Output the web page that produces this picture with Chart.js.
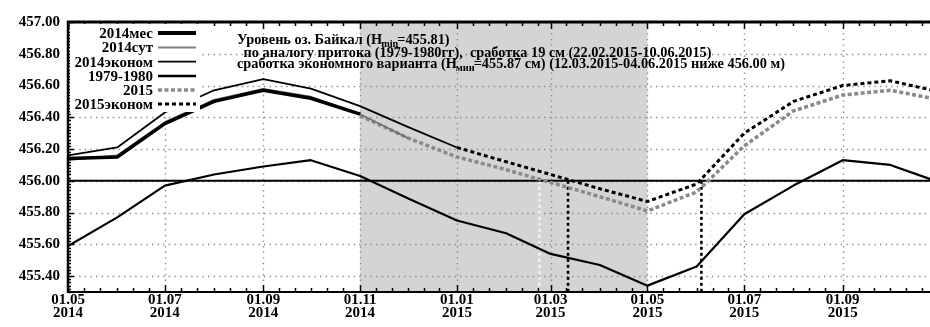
<!DOCTYPE html>
<html><head><meta charset="utf-8">
<script src="https://cdn.jsdelivr.net/npm/chart.js@4.4.1/dist/chart.umd.min.js"></script>
<style>html,body{margin:0;padding:0;background:#fff;}#wrap{width:930px;height:327px;position:relative;}</style>
</head><body><div id="wrap"><canvas id="c" width="930" height="327"></canvas></div>
<script>
// ---- data ----
const monthDates = ['2014-05-01','2014-06-01','2014-07-01','2014-08-01','2014-09-01','2014-10-01','2014-11-01','2014-12-01','2015-01-01','2015-02-01','2015-03-01','2015-04-01','2015-05-01','2015-06-01','2015-07-01','2015-08-01','2015-09-01','2015-10-01','2015-11-01'];
const s2014mes   = [456.14,456.15,456.36,456.50,456.57,456.52,456.42];
const s2014sut   = [456.13,456.16,456.37,456.51,456.58,456.53,456.42,456.27];
const s2014econ  = [456.16,456.21,456.43,456.57,456.64,456.58,456.47,456.34,456.21];
const s1979      = [455.59,455.77,455.97,456.04,456.09,456.13,456.03,455.89,455.75,455.67,455.54,455.47,455.34,455.46,455.79,455.97,456.13,456.10,455.99];
const s2015      = [null,null,null,null,null,null,456.41,456.27,456.15,456.07,455.99,455.90,455.81,455.93,456.22,456.44,456.54,456.57,456.51];
const s2015econ  = [null,null,null,null,null,null,null,null,456.21,456.12,456.04,455.95,455.87,455.98,456.30,456.50,456.60,456.63,456.56];
const seriesNames = ['2014мес','2014сут','2014эконом','1979-1980','2015','2015эконом'];
const xTickDates  = ['2014-05-01','2014-07-01','2014-09-01','2014-11-01','2015-01-01','2015-03-01','2015-05-01','2015-07-01','2015-09-01'];
const xTickLabels = [['01.05','2014'],['01.07','2014'],['01.09','2014'],['01.11','2014'],['01.01','2015'],['01.03','2015'],['01.05','2015'],['01.07','2015'],['01.09','2015']];
const yTicks = [455.4,455.6,455.8,456.0,456.2,456.4,456.6,456.8,457.0];
const xStartDate = '2014-05-01', xEndDate = '2015-10-26';
const yMin = 455.3, yMax = 457.0;
const shadeRange = ['2014-11-01','2015-05-01'];
const thresholdLevel = 456.00;
const markerDates = ['2015-03-12','2015-06-04'];
const faintMarkerDates = ['2015-02-22','2015-06-10'];
const noteLines = [
  ['Уровень оз. Байкал (H','min','=455.81)'],
  [' по аналогу притока (1979-1980гг),  сработка 19 см (22.02.2015-10.06.2015)','',''],
  ['сработка экономного варианта (H','мин','=455.87 см) (12.03.2015-04.06.2015 ниже 456.00 м)']
];

// ---- helpers ----
const T0 = Date.parse(xStartDate);
const day = s => (Date.parse(s) - T0) / 86400000;
const pts = arr => arr.map((v,i)=> v==null?null:{x:day(monthDates[i]), y:v}).filter(p=>p);
const FONT = 'Liberation Serif, Times New Roman, serif';

const ds = (label, data, color, width, dash) => ({label, data: pts(data), borderColor: color, borderWidth: width, borderDash: dash||[], pointRadius:0, fill:false, tension:0, borderCapStyle:'butt', borderJoinStyle:'round'});

const legendStyles = [
  {c:'#000', w:4, d:[]},
  {c:'#808080', w:2, d:[]},
  {c:'#000', w:1.8, d:[]},
  {c:'#000', w:2.5, d:[]},
  {c:'#8a8a8a', w:3.5, d:[4,2.5]},
  {c:'#000', w:3, d:[4,3]}
];

function line(ctx,x0,y0,x1,y1){ctx.beginPath();ctx.moveTo(x0,y0);ctx.lineTo(x1,y1);ctx.stroke();}

const deco = {
  id:'deco',
  beforeDatasetsDraw(chart){
    const {ctx, chartArea:a, scales:{x,y}} = chart;
    ctx.save();
    const sx0 = x.getPixelForValue(day(shadeRange[0])), sx1 = x.getPixelForValue(day(shadeRange[1]));
    ctx.fillStyle = '#d4d4d4';
    ctx.fillRect(sx0, a.top, sx1-sx0, a.bottom-a.top);
    ctx.strokeStyle = '#8a8a8a'; ctx.lineWidth = 1.4; ctx.setLineDash([1.4,4.2]);
    yTicks.forEach(v=>{ if (v>=yMax) return; const py = Math.round(y.getPixelForValue(v))+0.5; line(ctx,a.left,py,a.right,py); });
    xTickDates.forEach(d=>{ const px = Math.round(x.getPixelForValue(day(d)))+0.5; line(ctx,px,a.top,px,a.bottom); });
    ctx.strokeStyle = '#f2f2f2'; ctx.lineWidth = 2.5; ctx.setLineDash([3,3]);
    const ty = y.getPixelForValue(thresholdLevel);
    faintMarkerDates.forEach(d=>{ const px = x.getPixelForValue(day(d)); line(ctx,px,ty,px,a.bottom); });
    ctx.setLineDash([]); ctx.strokeStyle = '#000'; ctx.lineWidth = 2;
    line(ctx,a.left,ty,a.right,ty);
    ctx.setLineDash([3,3]); ctx.lineWidth = 2.6;
    markerDates.forEach(d=>{ const px = x.getPixelForValue(day(d)); line(ctx,px,ty,px,a.bottom); });
    ctx.restore();
  },
  afterDatasetsDraw(chart){
    const {ctx, chartArea:a, scales:{x,y}} = chart;
    ctx.save();
    ctx.strokeStyle = '#000'; ctx.lineWidth = 1.5; ctx.setLineDash([]);
    const majors = new Set(xTickDates.map(day));
    for (let m=0; m<19; m++){
      const yr = 2014 + Math.floor((4+m)/12), mo = (4+m)%12;
      [1,11,21].forEach(dd=>{
        const v = (Date.UTC(yr,mo,dd) - T0)/86400000;
        if (v > day(xEndDate)) return;
        const px = Math.round(x.getPixelForValue(v))+0.5;
        const len = majors.has(v) ? 7 : 4;
        line(ctx,px,a.bottom,px,a.bottom-len);
        line(ctx,px,a.top,px,a.top+len);
      });
    }
    for (let k=0;k<=85;k++){
      const v = yMin + k*0.02;
      const py = Math.round(y.getPixelForValue(v))+0.5;
      const major = (k%10===5);
      line(ctx,a.left,py,a.left+(major?6:3),py);
    }
    ctx.lineWidth = 2.5; line(ctx,a.left,a.top-1,a.left,a.bottom+1);
    ctx.lineWidth = 3; line(ctx,a.left-1,a.top,a.right,a.top);
    ctx.lineWidth = 2; line(ctx,a.left-1,a.bottom,a.right,a.bottom);
    ctx.fillStyle = '#fff';
    ctx.fillRect(a.left+2, a.top+2, 200-a.left-2, 112-a.top-2);
    ctx.font = 'bold 15px '+FONT; ctx.textAlign = 'right'; ctx.textBaseline = 'middle'; ctx.fillStyle = '#000';
    const rowY = [33,47.5,61.7,76,90,104];
    seriesNames.forEach((n,i)=>{
      ctx.fillStyle = '#000';
      ctx.fillText(n, 153, rowY[i]+1);
      const st = legendStyles[i];
      ctx.strokeStyle = st.c; ctx.lineWidth = st.w; ctx.setLineDash(st.d);
      line(ctx,158,rowY[i],196,rowY[i]);
    });
    ctx.setLineDash([]);
    ctx.textAlign = 'left'; ctx.textBaseline = 'alphabetic'; ctx.fillStyle = '#000';
    let fs = 14;
    ctx.font = 'bold '+fs+'px '+FONT;
    const w3 = ctx.measureText(noteLines[2][0]+noteLines[2][1]+noteLines[2][2]).width;
    fs = fs * 558 / w3;
    const noteX = [237,240,237], noteY = [44,57,68];
    noteLines.forEach((p,i)=>{
      let cx = noteX[i];
      ctx.font = 'bold '+fs+'px '+FONT;
      ctx.fillText(p[0], cx, noteY[i]); cx += ctx.measureText(p[0]).width;
      if (p[1]){
        ctx.font = 'bold '+(fs*0.72)+'px '+FONT;
        ctx.fillText(p[1], cx-1, noteY[i]+3); cx += ctx.measureText(p[1]).width-2;
        ctx.font = 'bold '+fs+'px '+FONT;
      }
      if (p[2]) ctx.fillText(p[2], cx, noteY[i]);
    });
    ctx.restore();
  }
};

new Chart(document.getElementById('c'), {
  type:'line',
  data:{datasets:[
    ds(seriesNames[0], s2014mes, '#000', 3.5),
    ds(seriesNames[1], s2014sut, '#6e6e6e', 1.6),
    ds(seriesNames[5], s2015econ, '#000', 3, [4,3]),
    ds(seriesNames[4], s2015, '#8a8a8a', 3.5, [4,2.5]),
    ds(seriesNames[2], s2014econ, '#000', 1.8),
    ds(seriesNames[3], s1979, '#000', 2.2)
  ]},
  options:{
    responsive:false, animation:false, events:[],
    layout:{padding:{top:22,left:0,right:0,bottom:0}},
    plugins:{legend:{display:false}, tooltip:{enabled:false}, title:{display:false}},
    scales:{
      x:{type:'linear', min:0, max:day(xEndDate),
         grid:{display:false, drawTicks:false}, border:{display:false},
         afterBuildTicks: s=>{ s.ticks = xTickDates.map(d=>({value:day(d)})); },
         afterFit: s=>{ s.height = 35; },
         ticks:{autoSkip:false, maxRotation:0, minRotation:0, padding:1, color:'#000',
                font:{family:FONT, size:15, weight:'bold', lineHeight:0.9},
                callback:(v,i)=>xTickLabels[i]}},
      y:{type:'linear', min:yMin, max:yMax,
         grid:{display:false, drawTicks:false}, border:{display:false},
         afterBuildTicks: s=>{ s.ticks = yTicks.map(v=>({value:v})); },
         afterFit: s=>{ s.width = 68; },
         ticks:{padding:8, color:'#000', font:{family:FONT, size:15, weight:'bold'},
                callback:v=>Number(v).toFixed(2)}}
    }
  },
  plugins:[deco]
});
</script></body></html>
